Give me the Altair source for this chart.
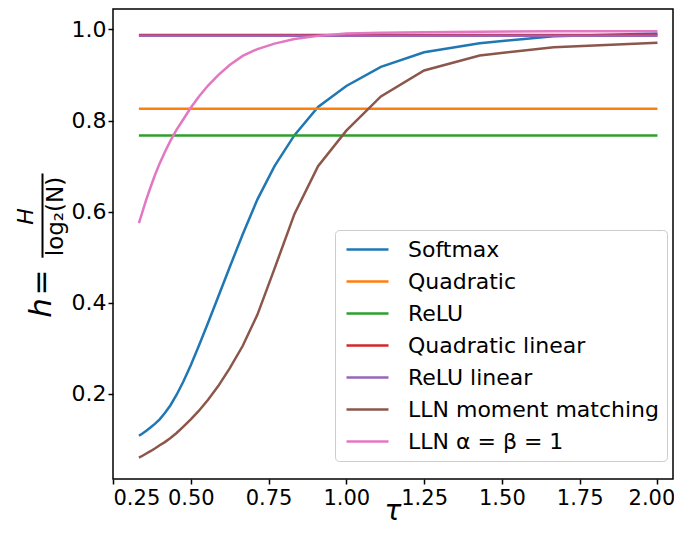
import altair as alt
import pandas as pd

# temperature grid
tau = [0.3333, 0.3448, 0.3571, 0.3704, 0.3846, 0.4000, 0.4167, 0.4348, 0.4545, 0.4762,
       0.5000, 0.5263, 0.5556, 0.5882, 0.6250, 0.6667, 0.7143, 0.7692, 0.8333, 0.9091,
       1.0000, 1.1111, 1.2500, 1.4286, 1.6667, 2.0000]

softmax = [0.108, 0.113, 0.119, 0.126, 0.134, 0.144, 0.158, 0.175, 0.198, 0.227,
           0.263, 0.306, 0.356, 0.413, 0.478, 0.550, 0.627, 0.700, 0.768, 0.830,
           0.876, 0.918, 0.950, 0.970, 0.985, 0.991]
quadratic = [0.826] * len(tau)
relu = [0.767] * len(tau)
quadratic_linear = [0.988] * len(tau)
relu_linear = [0.986] * len(tau)
lln_mm = [0.060, 0.064, 0.069, 0.074, 0.080, 0.087, 0.094, 0.103, 0.114, 0.128,
          0.144, 0.163, 0.187, 0.217, 0.256, 0.305, 0.374, 0.475, 0.595, 0.700,
          0.778, 0.853, 0.910, 0.943, 0.961, 0.971]
lln_ab = [0.575, 0.600, 0.627, 0.653, 0.680, 0.706, 0.731, 0.756, 0.780, 0.803,
          0.828, 0.853, 0.877, 0.900, 0.922, 0.942, 0.957, 0.969, 0.979, 0.986,
          0.991, 0.993, 0.994, 0.995, 0.996, 0.996]

names = ["Softmax", "Quadratic", "ReLU", "Quadratic linear", "ReLU linear",
         "LLN moment matching", "LLN α = β = 1"]
colors = ["#1f77b4", "#ff7f0e", "#2ca02c", "#d62728", "#9467bd", "#8c564b", "#e377c2"]
series = [softmax, quadratic, relu, quadratic_linear, relu_linear, lln_mm, lln_ab]

x_ticks = [0.25, 0.50, 0.75, 1.00, 1.25, 1.50, 1.75, 2.00]
y_ticks = [0.2, 0.4, 0.6, 0.8, 1.0]

rows = []
for name, vals in zip(names, series):
    for t, v in zip(tau, vals):
        rows.append({"tau": t, "h": v, "series": name})
df = pd.DataFrame(rows)

FONT = "DejaVu Sans"

lines = alt.Chart(df).mark_line(strokeWidth=2.5).encode(
    x=alt.X("tau:Q",
            scale=alt.Scale(domain=[0.25, 2.05], nice=False, zero=False),
            axis=alt.Axis(values=x_ticks, format=".2f", title=None, labelFontSize=21,
                          labelPadding=3,
                          labelOffset={"expr": "datum.value >= 2 ? -6 : 0"})),
    y=alt.Y("h:Q",
            scale=alt.Scale(domain=[0.013, 1.045], nice=False, zero=False),
            axis=alt.Axis(values=y_ticks, format=".1f", title=None, labelPadding=2)),
    color=alt.Color("series:N", sort=names,
                    scale=alt.Scale(domain=names, range=colors),
                    legend=alt.Legend(title=None, orient="none", legendX=222, legendY=221,
                                      padding=8, fillColor="white", strokeColor="#cccccc",
                                      cornerRadius=4, symbolType="M-2.1,0H2.1",
                                      symbolSize=400, symbolStrokeWidth=2.5,
                                      labelFontSize=22, labelFont=FONT, labelColor="black",
                                      labelOffset=29, symbolOffset=13, rowPadding=9,
                                      labelLimit=400)),
)

one = pd.DataFrame({"a": [0]})

x_title = alt.Chart(one).mark_text(fontSize=28, font=FONT, fontStyle="italic",
                                   align="center", baseline="alphabetic", color="black").encode(
    text=alt.value("τ"), x=alt.value(280), y=alt.value(511))
y_h = alt.Chart(one).mark_text(angle=270, fontSize=31, font=FONT, fontStyle="italic",
                               align="center", baseline="alphabetic", color="black").encode(
    text=alt.value("h"), x=alt.value(-62), y=alt.value(299))
y_eq = alt.Chart(one).mark_text(angle=270, fontSize=31, font=FONT,
                                align="center", baseline="alphabetic", color="black").encode(
    text=alt.value("="), x=alt.value(-62), y=alt.value(273.5))
y_bar = alt.Chart(one).mark_rule(strokeWidth=2, color="black").encode(
    x=alt.value(-70.5), y=alt.value(164.5), y2=alt.value(248.7))
y_num = alt.Chart(one).mark_text(angle=270, fontSize=22, font=FONT, fontStyle="italic",
                                 align="center", baseline="alphabetic", color="black").encode(
    text=alt.value("H"), x=alt.value(-80.4), y=alt.value(207.5))
y_den = alt.Chart(one).mark_text(angle=270, fontSize=23, font=FONT,
                                 align="center", baseline="alphabetic", color="black").encode(
    text=alt.value("log₂(N)"), x=alt.value(-50), y=alt.value(207.5))

chart = alt.layer(lines, x_title, y_h, y_eq, y_bar, y_num, y_den).properties(
    width=560, height=470,
    padding={"left": 105, "top": 1, "right": 1, "bottom": 44},
    autosize=alt.AutoSizeParams(type="none"),
    background="white",
).configure_view(
    stroke="black", strokeWidth=1.5
).configure_axis(
    domain=False, grid=False, tickSize=5, tickWidth=1.5, tickColor="black",
    labelFontSize=22, labelFont=FONT, labelColor="black", labelPadding=4,
)

chart.save("out.html", embed_options={"renderer": "svg", "actions": False})
